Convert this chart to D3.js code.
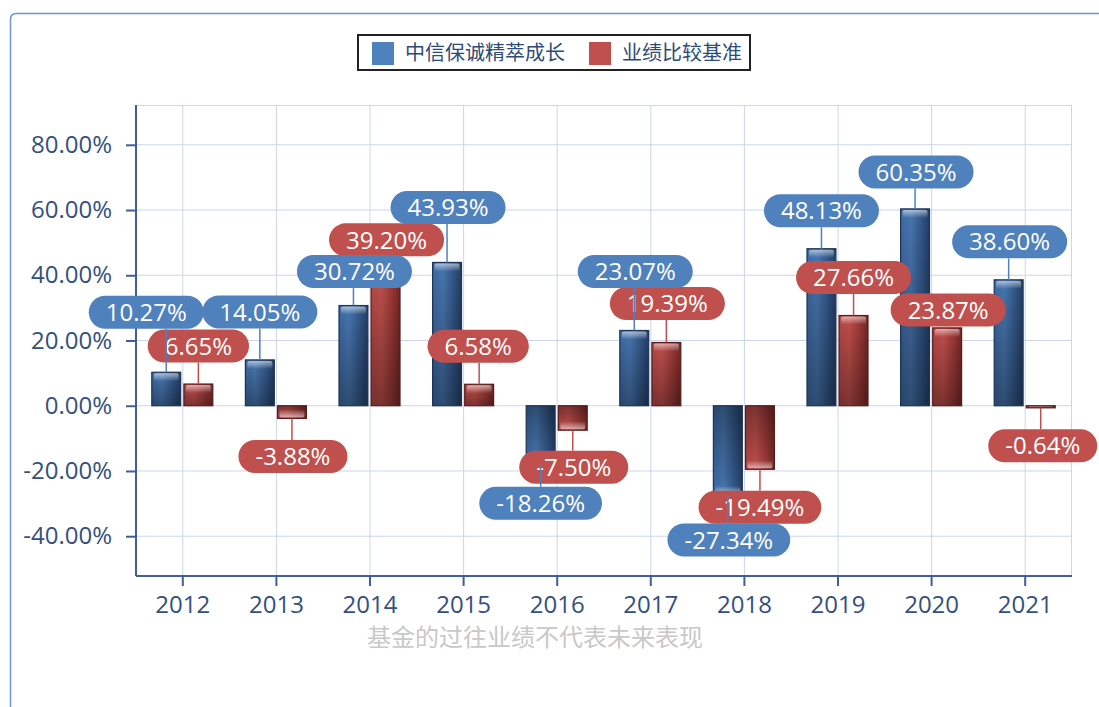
<!DOCTYPE html>
<html>
<head>
<meta charset="utf-8">
<script src="https://cdn.jsdelivr.net/npm/d3@7"></script>
<style>
  html, body { margin: 0; background: #fff; overflow: hidden; }
  svg { display: block; }
  svg text { font-family: "Open Sans", "Noto Sans CJK SC", sans-serif; }
  .cjk { font-family: "Noto Sans CJK SC", sans-serif !important; }
</style>
</head>
<body>
<div id="chart"></div>
<script>
// DATA
const years = ["2012", "2013", "2014", "2015", "2016", "2017", "2018", "2019", "2020", "2021"];
const seriesNames = ["中信保诚精萃成长", "业绩比较基准"];
const fundValues = [10.27, 14.05, 30.72, 43.93, -18.26, 23.07, -27.34, 48.13, 60.35, 38.60];
const benchValues = [6.65, -3.88, 39.20, 6.58, -7.50, 19.39, -19.49, 27.66, 23.87, -0.64];
const yTicks = [-40, -20, 0, 20, 40, 60, 80];
const note = "基金的过往业绩不代表未来表现";

// label placement (pixel offsets of the pill centre from the bar end)
const fundLabelDx = [-20, 0, 1, 1, 0, 1, 1, 0, 1, 1];
const fundLabelDy = [-60, -48, -34, -55, 38, -59, 45, -38, -37, -38];
const benchLabelDx = [0, 1, 1, -1, 1, 1, 0, 0, 1, 2];
const benchLabelDy = [-38, 38, -38, -38, 37, -39, 38, -38, -18, 38];

// MARGIN CONVENTIONS
const width = 1099, height = 707;
const margin = { top: 105, right: 27, bottom: 131, left: 136 };
const innerW = width - margin.left - margin.right;
const innerH = height - margin.top - margin.bottom;

const colors = { fund: "#4f81bd", bench: "#c0504d" };

const svg = d3.select("#chart").append("svg")
  .attr("width", width)
  .attr("height", height);

// outer frame (runs off the right and bottom edges)
svg.append("path")
  .attr("d", `M10.5,${height + 5}V19Q10.5,13.5 16.5,13.5H${width + 5}`)
  .attr("fill", "none")
  .attr("stroke", "#7094cc")
  .attr("stroke-width", 1.5);

const defs = svg.append("defs");

function hGrad(id, stops) {
  const gr = defs.append("linearGradient").attr("id", id)
    .attr("x1", 0).attr("x2", 1).attr("y1", 0).attr("y2", 0);
  stops.forEach(s => gr.append("stop").attr("offset", s[0]).attr("stop-color", s[1]).attr("stop-opacity", s[2] ?? 1));
}
function vGrad(id, stops) {
  const gr = defs.append("linearGradient").attr("id", id)
    .attr("x1", 0).attr("x2", 0).attr("y1", 0).attr("y2", 1);
  stops.forEach(s => gr.append("stop").attr("offset", s[0]).attr("stop-color", s[1]).attr("stop-opacity", s[2] ?? 1));
}

hGrad("fundH", [[0, "#3d6aa4"], [0.35, "#4876b0"], [0.7, "#34598c"], [1, "#223f66"]]);
hGrad("benchH", [[0, "#b44846"], [0.35, "#bf4f4c"], [0.7, "#9c3a38"], [1, "#742826"]]);
vGrad("shadePos", [[0, "#000", 0], [1, "#000", 0.35]]);
vGrad("shadeNeg", [[0, "#000", 0.35], [1, "#000", 0]]);
vGrad("hlPos", [[0, "#fff", 0.55], [1, "#fff", 0]]);
vGrad("hlNeg", [[0, "#fff", 0], [1, "#fff", 0.55]]);

const g = svg.append("g")
  .attr("transform", `translate(${margin.left}, ${margin.top})`);

// scales
const x0 = d3.scaleBand().domain(years).range([0, innerW]);
const x1 = d3.scaleBand().domain(["fund", "bench"])
  .range([x0.bandwidth() / 2 - 31, x0.bandwidth() / 2 + 30])
  .paddingInner(0.1);
const y = d3.scaleLinear().domain([-52.2, 92.2]).range([innerH, 0]);

// grid
g.append("g").selectAll("line").data(yTicks).join("line")
  .attr("x1", 0).attr("x2", innerW)
  .attr("y1", d => y(d)).attr("y2", d => y(d))
  .attr("stroke", "#ccd6e8").attr("stroke-width", 1);
g.append("g").selectAll("line").data(years).join("line")
  .attr("x1", d => x0(d) + x0.bandwidth() / 2).attr("x2", d => x0(d) + x0.bandwidth() / 2)
  .attr("y1", 0).attr("y2", innerH)
  .attr("stroke", "#ccd6e8").attr("stroke-width", 1);
g.append("line").attr("x1", 0).attr("x2", innerW).attr("y1", 0.5).attr("y2", 0.5)
  .attr("stroke", "#ccd6e8");
g.append("line").attr("x1", innerW - 0.5).attr("x2", innerW - 0.5).attr("y1", 0).attr("y2", innerH)
  .attr("stroke", "#ccd6e8");

// axes
const yAxis = g.append("g")
  .call(d3.axisLeft(y).tickValues(yTicks).tickSize(10).tickPadding(14)
    .tickFormat(d => d.toFixed(2) + "%"));
const xAxis = g.append("g")
  .attr("transform", `translate(0, ${innerH})`)
  .call(d3.axisBottom(x0).tickSize(10).tickPadding(10));
[yAxis, xAxis].forEach(a => {
  a.select(".domain").attr("stroke", "#3e5f99").attr("stroke-width", 2);
  a.selectAll(".tick line").attr("stroke", "#3e5f99").attr("stroke-width", 2);
  a.selectAll(".tick text").attr("fill", "#34507e").style("font-size", "24px");
});
yAxis.select(".domain").attr("d", `M0,0V${innerH}`);
xAxis.select(".domain").attr("d", `M0,0H${innerW}`);

// bars
const series = [
  { key: "fund", values: fundValues, dx: fundLabelDx, dy: fundLabelDy },
  { key: "bench", values: benchValues, dx: benchLabelDx, dy: benchLabelDy }
];
const rows = [];
series.forEach(s => s.values.forEach((v, i) => rows.push({
  key: s.key, year: years[i], value: v, ldx: s.dx[i], ldy: s.dy[i]
})));

const barG = g.append("g");
rows.forEach(d => {
  const bx = x0(d.year) + x1(d.key);
  const bw = x1.bandwidth();
  const top = y(Math.max(0, d.value));
  const bh = Math.max(1.5, Math.abs(y(d.value) - y(0)));
  const pos = d.value >= 0;
  const b = barG.append("g");
  b.append("rect").attr("x", bx).attr("y", top).attr("width", bw).attr("height", bh)
    .attr("fill", `url(#${d.key}H)`);
  b.append("rect").attr("x", bx).attr("y", top).attr("width", bw).attr("height", bh)
    .attr("fill", pos ? "url(#shadePos)" : "url(#shadeNeg)");
  const hh = Math.min(8, bh);
  b.append("rect").attr("x", bx + 2).attr("y", pos ? top + 1 : top + bh - hh - 1)
    .attr("width", bw - 4).attr("height", hh)
    .attr("rx", 2)
    .attr("fill", pos ? "url(#hlPos)" : "url(#hlNeg)");
  b.append("rect").attr("x", bx).attr("y", top).attr("width", bw).attr("height", bh)
    .attr("fill", "none")
    .attr("stroke", d.key === "fund" ? "#1c3457" : "#5a1c1b")
    .attr("stroke-width", 1.2);
});

// value labels
const labelG = g.append("g");
const pillH = 33;
["bench", "fund"].forEach(key => {
  rows.filter(d => d.key === key).forEach(d => {
    const cx = x0(d.year) + x1(d.key) + x1.bandwidth() / 2;
    const endY = y(d.value);
    const lx = cx + d.ldx;
    const ly = endY + d.ldy;
    const edge = d.ldy < 0 ? ly + pillH / 2 : ly - pillH / 2;
    labelG.append("line")
      .attr("x1", cx).attr("x2", cx)
      .attr("y1", endY).attr("y2", edge)
      .attr("stroke", colors[d.key]).attr("stroke-width", 1.5);
    const lg = labelG.append("g");
    const rect = lg.append("rect").attr("fill", colors[d.key]);
    const t = lg.append("text")
      .attr("x", lx).attr("y", ly)
      .attr("dy", "0.36em")
      .attr("text-anchor", "middle")
      .attr("fill", "#fff")
      .style("font-size", "24px")
      .text(d.value.toFixed(2) + "%");
    const tw = t.node().getComputedTextLength();
    const pw = tw + 34;
    rect.attr("x", lx - pw / 2).attr("y", ly - pillH / 2)
      .attr("width", pw).attr("height", pillH)
      .attr("rx", pillH / 2);
  });
});

// legend
const legend = svg.append("g");
legend.append("rect")
  .attr("x", 358).attr("y", 35).attr("width", 392).attr("height", 35)
  .attr("fill", "#fff").attr("stroke", "#222").attr("stroke-width", 2);
const legendX = [372, 589];
series.forEach((s, i) => {
  legend.append("rect")
    .attr("x", legendX[i]).attr("y", 42).attr("width", 22).attr("height", 23)
    .attr("fill", colors[s.key]);
  legend.append("text")
    .attr("class", "cjk")
    .attr("x", legendX[i] + 33).attr("y", 60)
    .attr("fill", "#2e4a78")
    .style("font-size", "20px")
    .text(seriesNames[i]);
});

// note
svg.append("text")
  .attr("class", "cjk")
  .attr("x", 367).attr("y", 646)
  .attr("fill", "#c8c8c8")
  .style("font-size", "24px")
  .text(note);
</script>
</body>
</html>
